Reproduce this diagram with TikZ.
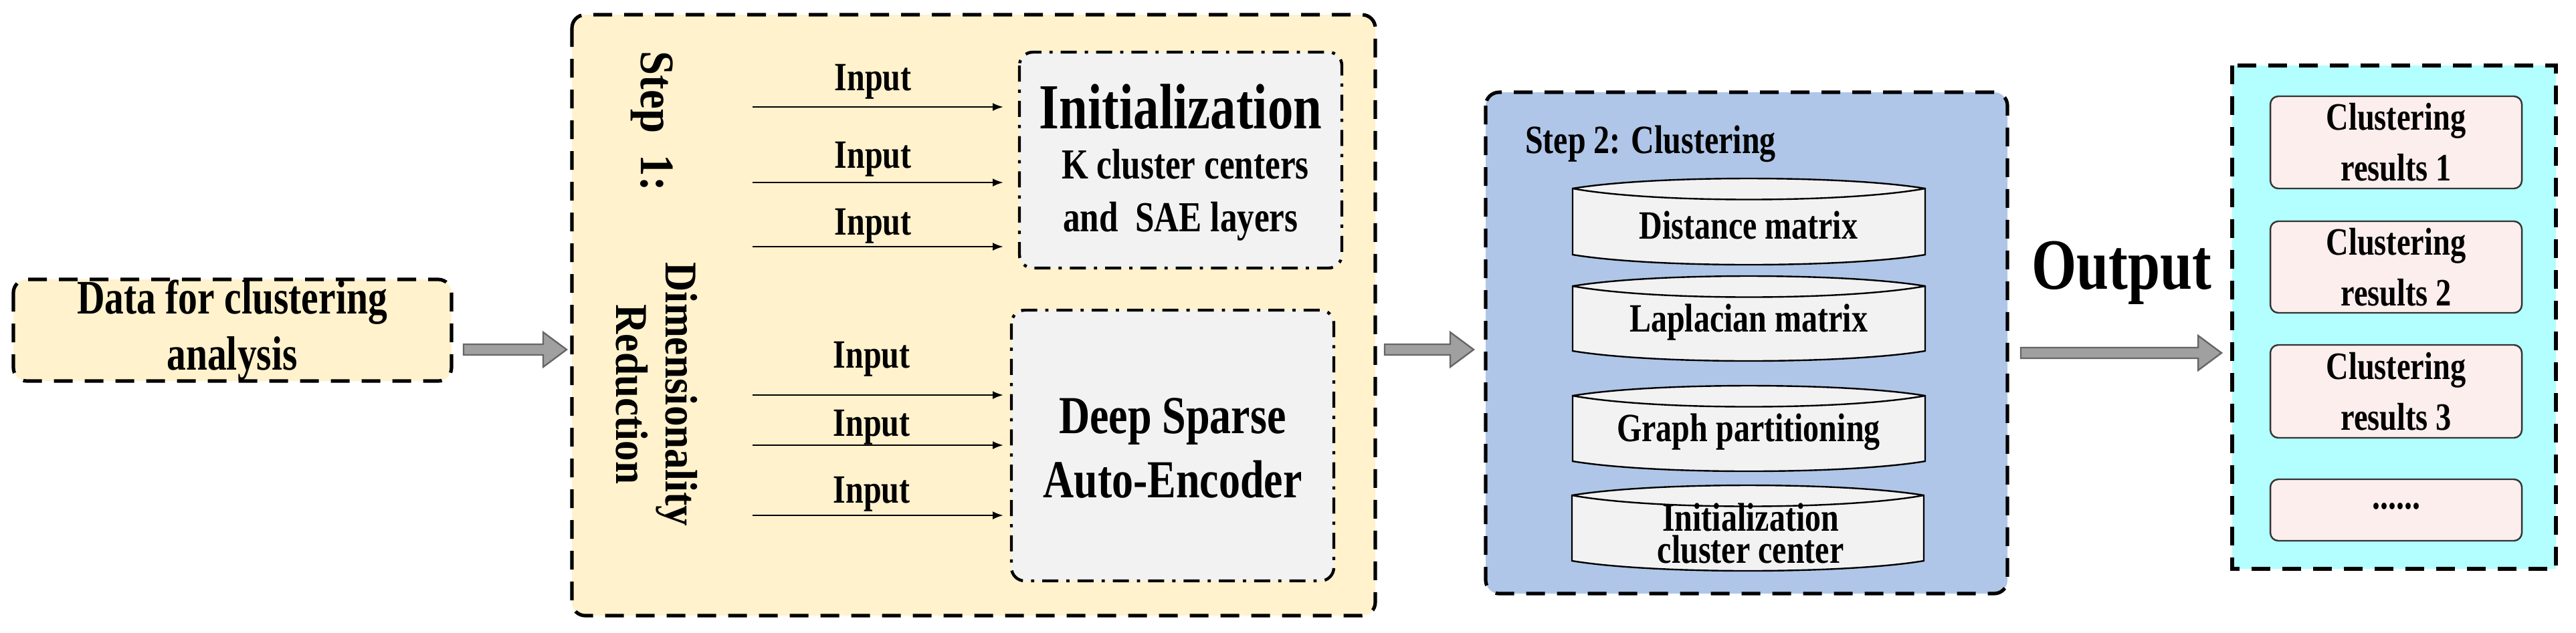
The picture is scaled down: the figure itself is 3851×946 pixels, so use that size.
\documentclass[tikz,border=0pt]{standalone}
\usepackage{fontspec}
\setmainfont{Liberation Serif}[FakeStretch=0.8]
\newfontfamily\rotfont{Liberation Serif}[FakeStretch=0.9]
\usetikzlibrary{arrows.meta}
\definecolor{ylw}{HTML}{FFF2CC}
\definecolor{lgray}{HTML}{F2F2F2}
\definecolor{blu}{HTML}{AFC6E8}
\definecolor{cyn}{HTML}{B3FFFF}
\definecolor{pnk}{HTML}{FBEEEC}
\definecolor{agray}{HTML}{A0A0A0}
\newcommand\drumshape[4]{%
  \draw[drum] (#1,#2+15) .. controls (#1+120,#2-5) and (#3-120,#2-5) .. (#3,#2+15)
     -- (#3,#4-15) .. controls (#3-120,#4+5) and (#1+120,#4+5) .. (#1,#4-15) -- cycle;
  \draw[line width=0.6pt] (#1,#2+15) .. controls (#1+120,#2+37) and (#3-120,#2+37) .. (#3,#2+15);}
\newcommand\grayarrow[3]{% x1 x2 y
  \draw[fill=agray,draw=black!60,line width=0.6pt]
    (#1,#3-8) -- (#2-35,#3-8) -- (#2-35,#3-26) -- (#2,#3) -- (#2-35,#3+26) -- (#2-35,#3+8) -- (#1,#3+8) -- cycle;}
\begin{document}
\begin{tikzpicture}[x=0.25pt,y=-0.25pt,
  bigbox/.style={draw=black,line width=1.3pt,dash pattern=on 7pt off 4.5pt,rounded corners=5pt},
  inbox/.style={draw=black,line width=1.1pt,dash pattern=on 6pt off 3pt on 1.2pt off 3pt,rounded corners=5pt,fill=lgray},
  drum/.style={draw=black,line width=0.6pt,fill=lgray},
  res/.style={draw=black!80,line width=0.6pt,rounded corners=3pt,fill=pnk},
  inp/.style={font=\bfseries\fontsize{15}{17}\selectfont},
  arr/.style={-{Latex[length=4pt,width=3pt]},line width=0.6pt},
  txt/.style={font=\bfseries\fontsize{15}{17}\selectfont,align=center,inner sep=0pt}]
\useasboundingbox (0,0) rectangle (3851,946);
% data box
\draw[bigbox,fill=ylw] (20,418) rectangle (675,570);
\node[font=\bfseries\fontsize{18}{21}\selectfont,align=center] (data) at (347,494) {Data for clustering\\analysis};
\grayarrow{693}{847}{523}
% step 1
\draw[bigbox,fill=ylw] (855,22) rectangle (2056,921);
\node[rotate=-90,font=\rotfont\bfseries\fontsize{18}{20}\selectfont,anchor=west,inner sep=1pt] (s1) at (975,72) {Step\ \ 1:};
\node[rotate=-90,font=\rotfont\bfseries\fontsize{17}{18.5}\selectfont,align=center,inner sep=1pt] (dr) at (982,590) {Dimensionality\\Reduction};
\draw[inbox] (1524,78) rectangle (2006,401);
\node[font=\bfseries\fontsize{24}{26}\selectfont,inner sep=0pt] (init) at (1765,160) {Initialization};
\node[txt,font=\bfseries\fontsize{16}{18}\selectfont] (kc) at (1772,246) {K cluster centers};
\node[txt,font=\bfseries\fontsize{16}{18}\selectfont] (sae) at (1765,331) {and\ \ SAE layers};
\coordinate (i1) at (1500,160); \coordinate (i2) at (1500,273); \coordinate (i3) at (1500,369);
\foreach \n/\y in {a/160,b/273,c/369}{\coordinate (s\n) at (1125,\y);}
\draw[arr] (sa) -- (i1); \draw[arr] (sb) -- (i2); \draw[arr] (sc) -- (i3);
\node[inp] (l1) at (1305,122) {Input};
\node[inp] (l2) at (1305,238) {Input};
\node[inp] (l3) at (1305,338) {Input};
\draw[inbox] (1512,464) rectangle (1994,869);
\node[font=\bfseries\fontsize{20}{24}\selectfont,align=center] (dsae) at (1753,670) {Deep Sparse\\Auto-Encoder};
\foreach \n/\y in {d/591,e/666,f/771}{\coordinate (s\n) at (1125,\y); \coordinate (t\n) at (1500,\y);}
\draw[arr] (sd) -- (td); \draw[arr] (se) -- (te); \draw[arr] (sf) -- (tf);
\node[inp] (l4) at (1303,537) {Input};
\node[inp] (l5) at (1303,639) {Input};
\node[inp] (l6) at (1303,739) {Input};
\grayarrow{2070}{2203}{523}
% step 2
\draw[bigbox,fill=blu] (2221,138) rectangle (3001,888);
\node[font=\bfseries\fontsize{15}{17}\selectfont,anchor=west] (s2) at (2266,215) {Step 2: Clustering};
\drumshape{2351}{267}{2878}{396}
\node[txt] (dm) at (2614,337) {Distance matrix};
\drumshape{2351}{413}{2878}{540}
\node[txt] (lm) at (2614,482) {Laplacian matrix};
\drumshape{2351}{577}{2878}{705}
\node[txt] (gp) at (2614,646) {Graph partitioning};
\drumshape{2350}{726}{2876}{854}
\node[txt,font=\bfseries\fontsize{15}{12}\selectfont] (ic) at (2617,798) {Initialization\\cluster center};
% output
\grayarrow{3021}{3321}{528}
\node[font=\bfseries\fontsize{27}{30}\selectfont] (out) at (3172,408) {Output};
\draw[bigbox,fill=cyn,rounded corners=0pt] (3337,98) rectangle (3821,851);
\draw[res] (3394,144) rectangle (3770,282);
\node[txt,font=\bfseries\fontsize{14.5}{19}\selectfont] (r1) at (3582,213) {Clustering\\results 1};
\draw[res] (3394,331) rectangle (3770,468);
\node[txt,font=\bfseries\fontsize{14.5}{19}\selectfont] (r2) at (3582,400) {Clustering\\results 2};
\draw[res] (3394,516) rectangle (3770,655);
\node[txt,font=\bfseries\fontsize{14.5}{19}\selectfont] (r3) at (3582,586) {Clustering\\results 3};
\draw[res] (3394,717) rectangle (3770,809);
\node[txt] (r4) at (3582,757) {......};
\end{tikzpicture}
\end{document}
